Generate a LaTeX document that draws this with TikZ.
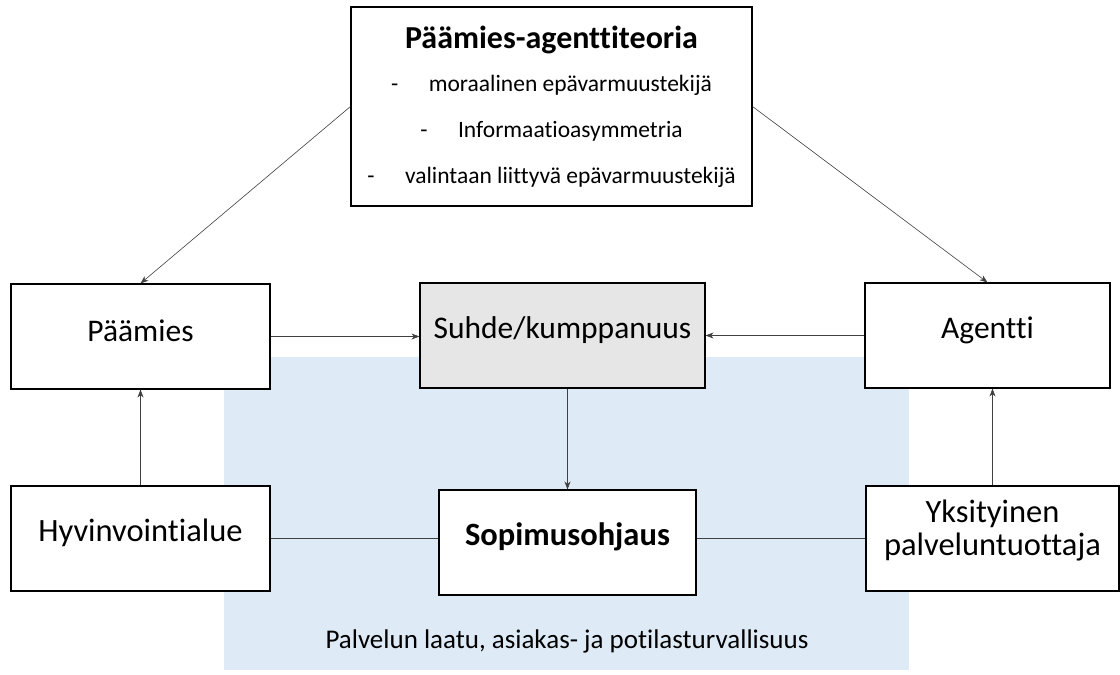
\documentclass[tikz,border=0pt]{standalone}
\usepackage{fontspec}
\setmainfont{Carlito}[Ligatures=NoCommon]
\usetikzlibrary{arrows.meta}
\definecolor{laatusin}{HTML}{DEEBF7}
\definecolor{suhdeharm}{HTML}{E6E6E6}
\definecolor{nuoli}{HTML}{404040}
\newcommand{\isoteksti}{\fontsize{31.5}{35}\selectfont}
\newcommand{\pieniteksti}{\fontsize{23.5}{46}\selectfont}
\newcommand{\nosta}[2][5pt]{\raisebox{#1}[\height][\depth]{#2}}

\begin{document}
\begin{tikzpicture}[x=1pt,y=-1pt,>={Stealth[length=8pt,width=6pt]},
	laatikko/.style={draw=black,line width=1.1pt,fill=white,inner sep=2pt,align=center,font=\isoteksti},
	nuolet/.style={->,draw=nuoli,line width=0.6pt},
	viiva/.style={draw=nuoli,line width=0.6pt}]
	\useasboundingbox (0,0) rectangle (1120,675);
	
	% taustan laatualue
	\fill[laatusin] (224,357) rectangle (909,670);
	\node[font=\fontsize{27}{32}\selectfont] (laatu) at (567,641) {Palvelun laatu, asiakas- ja potilasturvallisuus};
	
	\node[laatikko,minimum width=401pt,minimum height=199pt,font=\pieniteksti] (teoria) at (551.5,106.5)
		{{\bfseries\fontsize{32}{40}\selectfont P\"a\"amies-agenttiteoria}\\[-3pt]
		-\hspace{1.3em}moraalinen ep\"avarmuustekij\"a\\
		-\hspace{1.3em}Informaatioasymmetria\\
		-\hspace{1.3em}valintaan liittyv\"a ep\"avarmuustekij\"a};
	\node[laatikko,minimum width=259pt,minimum height=105pt] (paamies) at (140.5,336.5) {\nosta[6pt]{P\"a\"amies}};
	\node[laatikko,fill=suhdeharm,minimum width=285pt,minimum height=105pt] (suhde) at (562.5,335.5) {\nosta{Suhde/kumppanuus}};
	\node[laatikko,minimum width=245pt,minimum height=105pt] (agentti) at (987.5,335.5) {\nosta{Agentti}};
	\node[laatikko,minimum width=259pt,minimum height=105pt,font=\fontsize{32.5}{35}\selectfont] (hyvin) at (140.5,538.5) {\nosta[6pt]{Hyvinvointialue}};
	\node[laatikko,minimum width=257pt,minimum height=105pt,font=\fontsize{32.5}{35}\selectfont\bfseries] (sopimus) at (567.5,542.5) {\nosta[6pt]{Sopimusohjaus}};
	\node[laatikko,minimum width=253pt,minimum height=105pt,font=\fontsize{32.5}{35}\selectfont] (yksit) at (992.5,538.5) {\nosta[8pt]{\shortstack{Yksityinen\\[2pt]palveluntuottaja}}};
	
	\draw[nuolet] (teoria.west) -- (paamies.north);
	\draw[nuolet] (teoria.east) -- (agentti.north);
	\draw[nuolet] (paamies.east) -- (paamies.east -| suhde.west);
	\draw[nuolet] (agentti.west) -- (agentti.west -| suhde.east);
	\draw[nuolet] (sopimus.north |- suhde.south) -- (sopimus.north);
	\draw[nuolet] (hyvin.north) -- (paamies.south);
	\draw[nuolet] (yksit.north) -- (yksit.north |- agentti.south);
	\draw[viiva] (hyvin.east) -- (hyvin.east -| sopimus.west);
	\draw[viiva] (sopimus.east |- hyvin.east) -- (yksit.west);
\end{tikzpicture}
\end{document}
